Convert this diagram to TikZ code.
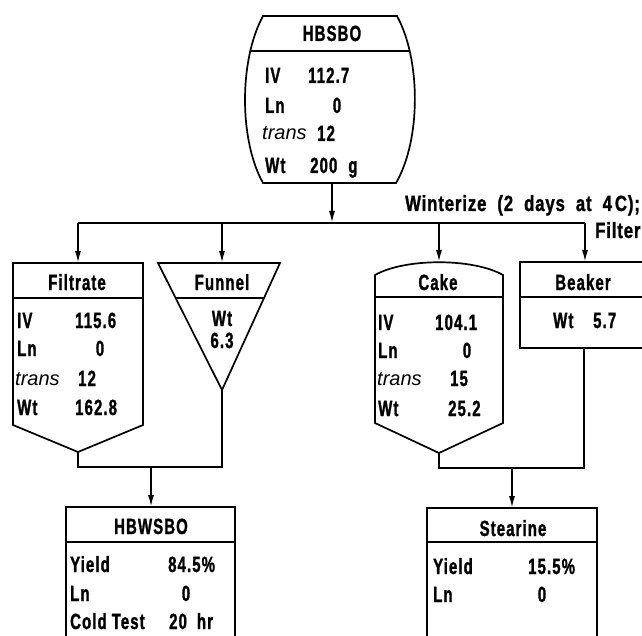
\documentclass[tikz,border=0pt]{standalone}
\usepackage{fontspec}
\newfontfamily\cf[FakeStretch=0.68,LetterSpace=5,FakeBold=1.2]{Liberation Sans}
\newfontfamily\cfw[FakeStretch=0.76,LetterSpace=4,FakeBold=1.2]{Liberation Sans}
\newfontfamily\itf{Liberation Sans}
\usetikzlibrary{arrows.meta}
\tikzset{
  txt/.style={font={\cf\bfseries\fontsize{22}{26}\selectfont}, inner sep=0pt},
  lab/.style={txt, anchor=base west},
  ctr/.style={txt, anchor=base},
  wide/.style={font={\cfw\bfseries\fontsize{22}{26}\selectfont}, inner sep=0pt, anchor=base west},
  itl/.style={font={\itf\itshape\fontsize{20}{24}\selectfont}, inner sep=0pt, anchor=base west},
  ln/.style={line width=1.7pt},
  arr/.style={line width=1.7pt, -{Latex[length=12pt,width=6pt]}},
}
\begin{document}
\begin{tikzpicture}[x=1pt,y=-1pt]
\useasboundingbox (0,0) rectangle (642,636);
\def\barrel{(263,16) -- (397,16) .. controls (421,60) and (421,140) .. (396,183) -- (263,183) .. controls (239,140) and (239,60) .. (263,16) -- cycle}
% HBSBO
\draw[ln] \barrel;
\begin{scope}
  \clip \barrel;
  \draw[ln] (230,51) -- (430,51);
\end{scope}
\node[ctr] (hbH) at (332,41) {HBSBO};
\node[lab] (hb1l) at (265,83) {IV};
\node[lab] (hb1v) at (308,83) {112.7};
\node[lab] (hb2l) at (265,113) {Ln};
\node[ctr] (hb2v) at (337,113) {0};
\node[itl] (hb3l) at (262,140) {trans};
\node[lab] (hb3v) at (317,141) {12};
\node[lab] (hb4l) at (265,173) {Wt};
\node[lab] (hb4v) at (310,173) {200\hspace{11pt}g};

% Filtrate
\draw[ln] (13,263) -- (143,263) -- (143,425) -- (78,452) -- (13,425) -- cycle;
\draw[ln] (13,298) -- (143,298);
\node[ctr] (fiH) at (77,290) {Filtrate};
\node[lab] (fi1l) at (17,328) {IV};
\node[lab] (fi1v) at (75,328) {115.6};
\node[lab] (fi2l) at (17,356) {Ln};
\node[ctr] (fi2v) at (100,356) {0};
\node[itl] (fi3l) at (15,385) {trans};
\node[lab] (fi3v) at (78,386) {12};
\node[lab] (fi4l) at (17,415) {Wt};
\node[lab] (fi4v) at (75,415) {162.8};

% Funnel
\draw[ln] (158,263) -- (280,263) -- (222,390) -- cycle;
\draw[ln] (175.6,298) -- (264,298);
\node[ctr] (fuH) at (222,290) {Funnel};
\node[ctr] (fu1) at (222,326) {Wt};
\node[ctr] (fu2) at (222,348) {6.3};

% Cake
\draw[ln] (375,275) .. controls (405,258) and (473,258) .. (503,275) -- (503,423) -- (439,453) -- (375,423) -- cycle;
\draw[ln] (375,297) -- (503,297);
\node[ctr] (caH) at (438,290) {Cake};
\node[lab] (ca1l) at (378,330) {IV};
\node[lab] (ca1v) at (435,330) {104.1};
\node[lab] (ca2l) at (378,358) {Ln};
\node[ctr] (ca2v) at (467,358) {0};
\node[itl] (ca3l) at (377,385) {trans};
\node[lab] (ca3v) at (450,386) {15};
\node[lab] (ca4l) at (378,416) {Wt};
\node[lab] (ca4v) at (448,416) {25.2};

% Beaker
\draw[ln] (660,262) -- (520,262) -- (520,348) -- (660,348);
\draw[ln] (520,297) -- (660,297);
\node[ctr] (beH) at (583,290) {Beaker};
\node[lab] (be1l) at (553,328) {Wt};
\node[lab] (be1v) at (593,328) {5.7};

% HBWSBO
\draw[ln] (66,650) -- (66,507) -- (235,507) -- (235,650);
\draw[ln] (66,542) -- (235,542);
\node[ctr] (hwH) at (151,534) {HBWSBO};
\node[lab] (hw1l) at (70,572) {Yield};
\node[lab] (hw1v) at (168,572) {84.5\%};
\node[lab] (hw2l) at (70,601) {Ln};
\node[ctr] (hw2v) at (186,601) {0};
\node[lab] (hw3l) at (70,629) {Cold\hspace{5pt}Test};
\node[lab] (hw3v) at (169,629) {20\hspace{10pt}hr};

% Stearine
\draw[ln] (427,650) -- (427,508) -- (597,508) -- (597,650);
\draw[ln] (427,542) -- (597,542);
\node[ctr] (stH) at (513,536) {Stearine};
\node[lab] (st1l) at (433,574) {Yield};
\node[lab] (st1v) at (528,574) {15.5\%};
\node[lab] (st2l) at (433,602) {Ln};
\node[ctr] (st2v) at (542,602) {0};

% process text
\node[wide] (wint) at (405,211) {Winterize\hspace{11pt}(2\hspace{11pt}days\hspace{11pt}at\hspace{11pt}4\hspace{3pt}C);};
\node[wide] (filtr) at (595,238) {Filter};

% connector points
\coordinate (hbB) at (332,183);
\coordinate (busHB) at (332,223);
\coordinate (busA) at (78,223);
\coordinate (busB) at (222,223);
\coordinate (busC) at (439,223);
\coordinate (busD) at (585,223);
\coordinate (filT) at (78,263);
\coordinate (funT) at (222,263);
\coordinate (cakT) at (439,262);
\coordinate (beaT) at (585,262);
\coordinate (filB) at (78,452);
\coordinate (funB) at (222,390);
\coordinate (cakB) at (439,453);
\coordinate (beaB) at (584,348);
\coordinate (jL) at (78,467);
\coordinate (jLm) at (151,467);
\coordinate (hbwT) at (151,507);
\coordinate (jR) at (439,468);
\coordinate (jRm) at (512,468);
\coordinate (steT) at (512,508);

\draw[arr] (hbB) -- (busHB);
\draw[ln] (busA) -- (busD);
\draw[arr] (busA) -- (filT);
\draw[arr] (busB) -- (funT);
\draw[arr] (busC) -- (cakT);
\draw[arr] (busD) -- (beaT);
\draw[ln] (filB) -- (jL) -| (funB);
\draw[arr] (jLm) -- (hbwT);
\draw[ln] (cakB) -- (jR) -| (beaB);
\draw[arr] (jRm) -- (steT);
\end{tikzpicture}
\end{document}
